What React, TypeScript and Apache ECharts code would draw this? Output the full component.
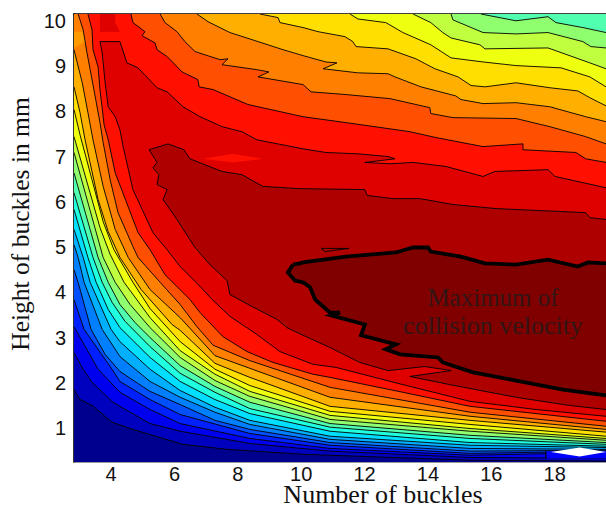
import React, { useEffect, useRef } from "react";
import * as echarts from "echarts";

type P = [number, number];

const X_MIN = 2.83, X_MAX = 19.62, Y_MIN = 0.25, Y_MAX = 10.15;
const xTickValues = [4, 6, 8, 10, 12, 14, 16, 18];
const yTickValues = [1, 2, 3, 4, 5, 6, 7, 8, 9, 10];
const xTitle = "Number of buckles";
const yTitle = "Height of buckles in mm";
const noteLines = ["Maximum of", "collision velocity"];

const bandColors = ["#00008f","#0000bf","#0000ef","#0020ff","#0050ff","#0080ff","#00afff","#00dfff","#20ffdf","#50ffaf","#8fff70","#bfff40","#efff10","#ffdf00","#ffaf00","#ff7f00","#ff4f00","#ff1000","#df0000","#af0000","#800000"];

const L0: P[] = [[2.83,1.85],[3.02,1.63],[3.4,1.5],[4.03,1.13],[4.69,0.97],[6.27,0.64],[7.66,0.53],[10.06,0.42],[15.33,0.29],[19.62,0.27]];
const L1: P[] = [[2.83,2.67],[3.12,2.3],[3.4,2.01],[4.06,1.57],[4.28,1.48],[5.23,1.1],[6.18,0.93],[8.38,0.66],[10.91,0.49],[15.33,0.35],[19.62,0.33]];
const L2: P[] = [[2.83,3.24],[3.59,2.3],[4.28,1.79],[5.23,1.41],[6.18,1.1],[8.38,0.77],[10.91,0.55],[15.33,0.4],[19.62,0.46]];
const L3: P[] = [[2.83,3.84],[3.15,3.18],[4.03,2.3],[4.28,2.03],[5.23,1.63],[6.18,1.3],[8.38,0.88],[10.91,0.62],[15.33,0.44],[19.62,0.49]];
const L4: P[] = [[2.83,4.5],[2.96,4.22],[3.37,3.18],[3.81,2.63],[4.28,2.25],[5.23,1.81],[6.18,1.52],[7.28,1.17],[8.38,0.97],[10.91,0.68],[15.33,0.49],[19.62,0.51]];
const L5: P[] = [[2.83,5.05],[2.96,4.77],[3.15,4.22],[3.72,3.18],[4.28,2.58],[5.23,2.03],[6.18,1.68],[7.28,1.35],[8.38,1.08],[10.91,0.75],[15.33,0.55],[19.62,0.53]];
const L6: P[] = [[2.83,5.39],[3.12,4.77],[3.34,4.22],[4,3.18],[4.28,2.91],[5.23,2.3],[6.18,1.83],[7.28,1.46],[8.38,1.17],[10.91,0.82],[15.33,0.62],[19.62,0.57]];
const L7: P[] = [[2.83,5.83],[3.27,4.77],[3.53,4.22],[3.91,3.62],[4.28,3.22],[5.23,2.56],[6.18,2.03],[7.28,1.63],[8.38,1.32],[10.91,0.93],[15.33,0.68],[19.62,0.6]];
const L8: P[] = [[2.83,6.2],[3.43,4.77],[3.72,4.22],[4.03,3.78],[4.44,3.36],[5.23,2.8],[6.18,2.21],[7.28,1.79],[8.38,1.43],[10.91,1.02],[15.33,0.77],[19.62,0.64]];
const L9: P[] = [[2.83,6.64],[3.59,4.77],[3.91,4.22],[4.28,3.73],[4.76,3.33],[5.23,3],[6.18,2.38],[7.28,1.92],[8.38,1.57],[10.91,1.1],[15.33,0.84],[19.62,0.68]];
const L10: P[] = [[2.83,7.09],[3.75,4.77],[4.13,4.22],[4.6,3.73],[5.23,3.22],[6.18,2.56],[7.28,2.05],[8.38,1.7],[10.91,1.19],[15.33,0.93],[19.62,0.73]];
const L11: P[] = [[2.83,7.44],[3.65,5.43],[3.97,4.84],[4.41,4.22],[5.23,3.44],[6.18,2.71],[7.28,2.19],[8.38,1.81],[10.91,1.28],[15.33,0.99],[19.62,0.77]];
const L12: P[] = [[2.83,8.04],[3.02,7.48],[3.75,5.56],[4.09,4.94],[4.69,4.22],[5.23,3.64],[6.18,2.91],[7.28,2.3],[8.38,1.94],[10.91,1.37],[15.33,1.08],[19.62,0.82]];
const L13: P[] = [[2.83,8.54],[3.02,7.97],[3.18,7.37],[3.59,6.05],[3.91,5.34],[4.28,4.77],[4.95,4.06],[5.92,3.29],[6.18,3.16],[7.28,2.43],[8.38,2.12],[10.91,1.48],[15.33,1.17],[19.62,0.91]];
const L14: P[] = [[2.83,9.36],[3.09,8.63],[3.27,7.97],[3.43,7.37],[3.75,6.34],[4.13,5.39],[4.54,4.77],[5.23,4.06],[6.18,3.44],[7.28,2.6],[8.38,2.32],[10.91,1.68],[15.33,1.26],[19.62,0.97]];
const L15: P[] = [[2.96,10.15],[3.12,9.8],[3.24,9.29],[3.34,8.92],[3.5,8.32],[3.65,7.75],[3.75,7.31],[3.97,6.49],[4.22,5.76],[4.69,5.01],[4.85,4.77],[5.55,4.22],[6.18,3.73],[6.71,3.24],[7.22,2.83],[8.38,2.49],[10.91,1.9],[15.33,1.35],[19.62,1.04]];
const L16: P[] = [[3.27,10.15],[3.4,9.8],[3.43,9.36],[3.59,8.98],[3.65,8.48],[3.78,7.7],[3.91,7.37],[4.13,6.64],[4.54,5.89],[4.85,5.32],[5.23,4.94],[5.7,4.39],[6.49,3.84],[6.81,3.55],[7.53,3.02],[8.29,2.69],[9.11,2.45],[10.37,2.19],[10.91,2.12],[13.21,1.79],[15.33,1.48],[19.62,1.15]];
const L17: P[] = [[3.65,9.54],[3.72,9.29],[3.81,8.65],[3.91,8.1],[4.13,7.88],[4.28,7.59],[4.38,7.22],[4.69,6.27],[5.32,5.32],[5.77,4.94],[6.18,4.57],[6.81,4.13],[7.19,3.84],[7.75,3.47],[8.6,3.07],[9.33,2.69],[10.37,2.41],[11.1,2.34],[13.21,1.96],[15.33,1.59],[17.41,1.41],[19.62,1.26]];
const L18: P[] = [[5.2,7.15],[5.45,6.87],[5.32,6.75],[5.51,6.6],[5.45,6.38],[5.77,6.27],[5.64,6.05],[6.02,5.67],[6.65,4.99],[7.12,4.61],[7.66,4.26],[7.75,3.95],[8.38,3.71],[9.24,3.4],[9.55,3.22],[10.06,3.05],[10.91,2.78],[11.85,2.45],[12.74,2.27],[13.9,2.36],[14.73,2.27],[13.43,2.14],[14.69,1.96],[16.78,1.68],[18.47,1.5],[19.62,1.41]];
const L19: P[] = [[9.74,4.61],[9.58,4.44],[9.8,4.26],[10.06,4.22],[10.28,4.11],[10.44,3.84],[10.91,3.55],[11.22,3.55],[10.94,3.49],[12.01,3.29],[11.89,3.05],[12.99,2.85],[12.67,2.74],[13.12,2.63],[14.32,2.56],[14.47,2.45],[15.42,2.23],[16.78,2.05],[18.26,1.85],[19.62,1.72]];

const U9: P[] = [[15.67,10.15],[16.78,10],[17.79,10.09],[18.04,9.96],[18.89,9.85],[19.62,9.74]];
const U10: P[] = [[14.73,10.15],[14.79,10.02],[15.74,9.74],[16.78,9.71],[17.79,9.74],[18.89,9.54],[19.14,9.43],[19.62,9.4]];
const U11: P[] = [[13.53,10.15],[14.09,9.96],[14.47,9.74],[14.73,9.62],[15.64,9.47],[15.8,9.38],[17.79,9.4],[19.11,9.07],[19.62,8.94]];
const U12: P[] = [[11.54,10.15],[11.79,10.04],[12.67,9.96],[13.21,9.74],[14.09,9.47],[14.73,9.18],[15.74,9.09],[16.78,9.01],[18.2,8.96],[19.11,8.76],[19.62,8.54]];
const U13: P[] = [[8.7,10.15],[9.27,10.07],[9.33,9.96],[10.06,9.85],[10.53,9.76],[11.38,9.65],[11.63,9.54],[11.73,9.43],[12.74,9.38],[13.62,9.16],[14.22,8.94],[14.95,8.76],[15.36,8.57],[15.8,8.54],[16.78,8.63],[17.85,8.52],[18.73,8.45],[19.11,8.3],[19.62,8.12]];
const U14: P[] = [[6.71,10.15],[7.06,9.98],[7.75,9.74],[8.64,9.54],[9.43,9.36],[10.06,9.23],[10.78,9.09],[11.13,9.07],[10.69,8.94],[11.79,8.85],[12.74,8.83],[12.96,8.76],[13.78,8.54],[14.88,8.34],[15.04,8.26],[15.74,8.17],[16.78,8.19],[17.85,8.1],[18.98,7.88],[19.62,7.77]];
const U15: P[] = [[5.55,10.15],[5.7,9.96],[6.08,9.76],[6.33,9.54],[6.65,9.32],[7.44,9.14],[7.69,9.16],[7.5,9.03],[8.6,8.92],[8.98,8.87],[8.64,8.76],[10.06,8.59],[10.31,8.43],[11.41,8.37],[12.8,8.28],[14.06,8.08],[14.09,7.95],[14.79,7.86],[16.78,7.84],[17.85,7.66],[18.98,7.44],[19.62,7.28]];
const U16: P[] = [[4.63,10.15],[4.69,9.96],[5.07,9.76],[4.98,9.67],[5.39,9.51],[5.45,9.36],[5.77,9.21],[6.24,8.87],[6.74,8.7],[6.78,8.54],[7.22,8.48],[8.32,8.15],[10.06,7.88],[11.41,7.75],[13.43,7.55],[14.25,7.42],[15.74,7.22],[17,7.28],[17,7.15],[18.67,7.09],[18.98,6.95],[19.62,6.87]];
const U17: P[] = [[3.65,9.54],[4.28,9.54],[4.5,9.07],[4.85,8.96],[5.45,8.52],[5.77,8.43],[6.27,8.1],[6.81,7.88],[7.5,7.66],[8.13,7.55],[8.6,7.37],[10.06,7.17],[10.78,7.09],[11.79,7.06],[12.74,7],[12.96,6.95],[12.01,6.87],[12.8,6.84],[13.53,6.87],[14.57,6.78],[15.74,6.56],[16.11,6.67],[17.79,6.71],[18.01,6.56],[19.62,6.31]];
const U18: P[] = [[5.2,7.15],[5.8,7.28],[6.3,7.15],[6.49,6.95],[7.5,6.67],[8.13,6.6],[8.79,6.34],[9.96,6.29],[12.01,6.27],[12.08,6.14],[12.9,6.07],[13.75,6.07],[14.79,5.94],[16.15,5.85],[18.98,5.76],[19.11,5.65],[19.62,5.61]];
const U19: P[] = [[9.74,4.61],[9.96,4.64],[10.06,4.66],[11.41,4.79],[12.99,4.88],[13.53,4.99],[14,4.99],[14.09,4.9],[15.04,4.79],[15.8,4.64],[16.78,4.61],[17.79,4.72],[18.73,4.57],[19.05,4.66],[19.62,4.64]];

const lowerBranches: P[][] = [L0,L1,L2,L3,L4,L5,L6,L7,L8,L9,L10,L11,L12,L13,L14,L15,L16,L17,L18,L19];
const upperBranches: (P[] | null)[] = [null,null,null,null,null,null,null,null,null,U9,U10,U11,U12,U13,U14,U15,U16,U17,U18,U19];

const ridgePatch: P[] = [[6.9,6.95],[7.85,7.06],[8.79,6.95],[7.85,6.87]];
const topPatch: P[] = [[3.65,10.15],[4.13,10.15],[4.13,9.96],[4.28,9.76],[3.65,9.76]];
const edgePatch: P[] = [[2.83,9.76],[3.1,9.76],[3.2,9.54],[2.83,9.4]];
const blueHole: P[] = [[17.72,0.49],[19.62,0.49],[19.62,0.33],[17.72,0.33]];
const whiteHole: P[] = [[17.88,0.47],[18.79,0.57],[19.62,0.47],[18.79,0.37]];
const sliver: P[] = [[10.63,4.97],[11.51,4.97],[10.75,4.9],[10.63,4.97]];
const holeEdge: P[] = [[17.72,0.49],[17.72,0.33]];

const fills: { pts: P[]; color: string }[] = [
  { pts: [[X_MIN,Y_MIN],[X_MAX,Y_MIN],[X_MAX,Y_MAX],[X_MIN,Y_MAX]], color: bandColors[0] },
  ...lowerBranches.map((low, i) => {
    const up = upperBranches[i];
    let pts: P[];
    if (!up) pts = [...low, [X_MAX, Y_MAX], [X_MIN, Y_MAX]];
    else {
      pts = [...low, ...[...up].reverse()];
      if (low[0][0] <= X_MIN) pts.push([X_MIN, Y_MAX]);
    }
    return { pts, color: bandColors[i + 1] };
  }),
  { pts: ridgePatch, color: bandColors[17] },
  { pts: topPatch, color: bandColors[18] },
  { pts: edgePatch, color: "#ff9a00" },
];
const holes: { pts: P[]; color: string }[] = [
  { pts: blueHole, color: "#0000ff" },
  { pts: whiteHole, color: "#ffffff" },
];

const lines: { pts: P[]; w: number }[] = [];
lowerBranches.forEach((low, i) => {
  const w = i === 19 ? 3.8 : 0.9;
  lines.push({ pts: low, w });
  const up = upperBranches[i];
  if (up) lines.push({ pts: up, w });
});
lines.push({ pts: sliver, w: 0.9 });

export default function App() {
  const ref = useRef<HTMLDivElement>(null);
  useEffect(() => {
    const chart = echarts.init(ref.current!, undefined, { renderer: "svg" });
    const sans = "Liberation Sans";
    const serif = "Liberation Serif";
    const polygonItem = (list: { pts: P[]; color: string }[]) => (params: any, api: any) => {
      const f = list[params.dataIndex];
      return { type: "polygon", shape: { points: f.pts.map((p) => api.coord(p)) }, style: { fill: f.color, stroke: "none" } };
    };
    chart.setOption({
      animation: false,
      backgroundColor: "#ffffff",
      grid: { left: 74, top: 14, width: 532, height: 448, containLabel: false },
      xAxis: [
        {
          type: "value", min: X_MIN, max: X_MAX, position: "bottom",
          splitLine: { show: false },
          axisLine: { show: true, onZero: false, lineStyle: { color: "#777777", width: 1.5 } },
          axisTick: { show: false },
          axisLabel: { customValues: xTickValues, margin: 2, fontFamily: sans, fontSize: 20, color: "#111111", hideOverlap: false },
        },
        {
          type: "value", min: X_MIN, max: X_MAX, position: "top",
          splitLine: { show: false },
          axisLine: { show: true, onZero: false, lineStyle: { color: "#000000", width: 1.5 } },
          axisTick: { show: false }, axisLabel: { show: false },
        },
      ],
      yAxis: {
        type: "value", min: Y_MIN, max: Y_MAX,
        splitLine: { show: false },
        axisLine: { show: true, onZero: false, lineStyle: { color: "#333333", width: 2 } },
        axisTick: { show: false },
        axisLabel: { customValues: yTickValues, margin: 8, fontFamily: sans, fontSize: 20, color: "#111111", hideOverlap: false },
      },
      series: [
        {
          type: "custom", coordinateSystem: "cartesian2d", clip: true, z: 1,
          data: fills.map((_, i) => [X_MIN, Y_MIN, i]),
          renderItem: polygonItem(fills),
        },
        {
          type: "custom", coordinateSystem: "cartesian2d", clip: true, z: 2,
          data: lines.map((_, i) => [X_MIN, Y_MIN, i]),
          renderItem: (params: any, api: any) => {
            const l = lines[params.dataIndex];
            return { type: "polyline", shape: { points: l.pts.map((p) => api.coord(p)) }, style: { fill: "none", stroke: "#000000", lineWidth: l.w, lineJoin: "miter" } };
          },
        },
        {
          type: "custom", coordinateSystem: "cartesian2d", clip: true, z: 3,
          data: holes.map((_, i) => [X_MIN, Y_MIN, i]),
          renderItem: polygonItem(holes),
        },
        {
          type: "custom", coordinateSystem: "cartesian2d", clip: true, z: 4,
          data: [[X_MIN, Y_MIN, 0]],
          renderItem: (_: any, api: any) => ({ type: "polyline", shape: { points: holeEdge.map((p) => api.coord(p)) }, style: { fill: "none", stroke: "#000000", lineWidth: 1.2 } }),
        },
      ],
      graphic: [
        { type: "text", z: 10, x: 383, y: 494, style: { text: xTitle, font: `26px "${serif}"`, fill: "#111111", align: "center", verticalAlign: "middle" } },
        { type: "text", z: 10, x: 20, y: 224, rotation: Math.PI / 2, style: { text: yTitle, font: `25.5px "${serif}"`, fill: "#111111", align: "center", verticalAlign: "middle" } },
        { type: "text", z: 10, x: 493, y: 297, style: { text: noteLines[0], font: `25px "${serif}"`, fill: "#331515", align: "center", verticalAlign: "middle" } },
        { type: "text", z: 10, x: 493, y: 325, style: { text: noteLines[1], font: `26px "${serif}"`, fill: "#331515", align: "center", verticalAlign: "middle" } },
      ],
    });
    return () => chart.dispose();
  }, []);
  return <div ref={ref} style={{ position: "absolute", left: 0, top: 0, width: 606, height: 507 }} />;
}
